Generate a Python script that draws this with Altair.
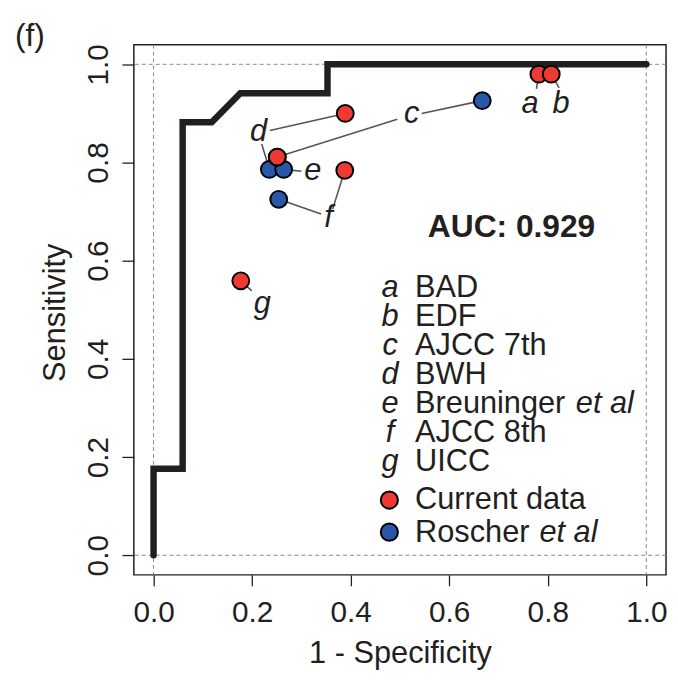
import altair as alt
import pandas as pd

FONT = "Liberation Sans"
INK = "#231F20"
RED = "#EE3A32"
BLUE = "#2A58A8"

# ROC step curve (1 - specificity, sensitivity)
roc_fpr = [0.0, 0.0, 0.059, 0.059, 0.118, 0.176, 0.353, 0.353, 1.0]
roc_tpr = [0.0, 0.176, 0.176, 0.882, 0.882, 0.941, 0.941, 1.0, 1.0]

# Current data (red)
cur_key = ["a", "b", "c", "d", "e", "f", "g"]
cur_fpr = [0.782, 0.807, 0.251, 0.389, 0.251, 0.388, 0.177]
cur_tpr = [0.980, 0.980, 0.811, 0.900, 0.811, 0.784, 0.559]

# Roscher et al (blue)
ros_key = ["c", "d", "e", "f"]
ros_fpr = [0.667, 0.235, 0.264, 0.254]
ros_tpr = [0.926, 0.786, 0.786, 0.725]

# point labels
lab_text = ["a", "b", "c", "d", "e", "f", "g"]
lab_x = [0.764, 0.827, 0.524, 0.213, 0.323, 0.355, 0.2205]
lab_y = [0.900, 0.900, 0.880, 0.843, 0.764, 0.669, 0.493]

# leader lines: label end -> point
seg_x1 = [0.777, 0.823, 0.4946, 0.544, 0.236, 0.2195, 0.300, 0.3635, 0.340, 0.1994]
seg_y1 = [0.950, 0.952, 0.888, 0.900, 0.865, 0.8376, 0.782, 0.705, 0.695, 0.5386]
seg_x2 = [0.782, 0.807, 0.251, 0.667, 0.389, 0.235, 0.264, 0.388, 0.254, 0.177]
seg_y2 = [0.980, 0.980, 0.811, 0.926, 0.900, 0.786, 0.786, 0.784, 0.725, 0.559]

# key
leg_letters = ["a", "b", "c", "d", "e", "f", "g"]
leg_names = ["BAD", "EDF", "AJCC 7th", "BWH", "Breuninger", "AJCC 8th", "UICC"]
leg_series = ["Current data", "Roscher"]
auc_text = "AUC: 0.929"

ticks = [0.0, 0.2, 0.4, 0.6, 0.8, 1.0]
dom = [-0.04, 1.04]

# layout of the key (data units)
LX_LET, LX_NAME, LY0, LSTEP = 0.48, 0.5307, 0.5265, 0.059
LFS = 31

xs = alt.Scale(domain=dom, nice=False, zero=False)
ys = alt.Scale(domain=dom, nice=False, zero=False)

XAX = alt.Axis(
    values=ticks, format=".1f", title="1 - Specificity",
    tickSize=11, tickWidth=1.3, labelPadding=11.6, labelFontSize=30,
    titleFontSize=31, titleBaseline="alphabetic", titleY=88)
YAX = alt.Axis(
    values=ticks, format=".1f", title="Sensitivity",
    tickSize=12, tickWidth=1.3, labelPadding=14.7, labelFontSize=30,
    labelAngle=270, labelAlign="center", labelBaseline="alphabetic",
    titleFontSize=31, titleAngle=270, titleBaseline="alphabetic",
    titleAlign="center", titleX=-70, titleY=270)


def X(f="x"):
    return alt.X(f"{f}:Q", scale=xs, axis=XAX)


def Y(f="y"):
    return alt.Y(f"{f}:Q", scale=ys, axis=YAX)


# reference dashed lines
vref = alt.Chart(pd.DataFrame({"x": [0.0, 1.0]})).mark_rule(
    color="#8a8a8a", strokeWidth=1, strokeDash=[4, 3]).encode(x=X())
href = alt.Chart(pd.DataFrame({"y": [0.0, 1.0]})).mark_rule(
    color="#8a8a8a", strokeWidth=1, strokeDash=[4, 3]).encode(y=Y())

roc = alt.Chart(pd.DataFrame({"x": roc_fpr, "y": roc_tpr, "i": list(range(len(roc_fpr)))})).mark_line(
    color=INK, strokeWidth=6.5, strokeJoin="miter", strokeCap="round").encode(
    x=X(), y=Y(), order="i:Q")

segs = alt.Chart(pd.DataFrame({"x": seg_x1, "y": seg_y1, "x2": seg_x2, "y2": seg_y2})).mark_rule(
    color="#555555", strokeWidth=1.6).encode(x=X(), y=Y(), x2="x2:Q", y2="y2:Q")

PSIZE = 290
blue = alt.Chart(pd.DataFrame({"x": ros_fpr, "y": ros_tpr, "k": ros_key})).mark_point(
    shape="circle", filled=True, size=PSIZE, fill=BLUE, fillOpacity=1,
    stroke="black", strokeWidth=2, opacity=1).encode(x=X(), y=Y())
red = alt.Chart(pd.DataFrame({"x": cur_fpr, "y": cur_tpr, "k": cur_key})).mark_point(
    shape="circle", filled=True, size=PSIZE, fill=RED, fillOpacity=1,
    stroke="black", strokeWidth=2, opacity=1).encode(x=X(), y=Y())

labels = alt.Chart(pd.DataFrame({"x": lab_x, "y": lab_y, "t": lab_text})).mark_text(
    font=FONT, fontSize=31, fontStyle="italic", color=INK, align="center",
    baseline="alphabetic").encode(x=X(), y=Y(), text="t:N")

auc = alt.Chart(pd.DataFrame({"x": [0.7265], "y": [0.648], "t": [auc_text]})).mark_text(
    font=FONT, fontSize=32, fontWeight="bold", color=INK, align="center",
    baseline="alphabetic").encode(x=X(), y=Y(), text="t:N")

ly = [LY0 - i * LSTEP for i in range(len(leg_letters))]
leg_let = alt.Chart(pd.DataFrame({"x": [LX_LET] * 7, "y": ly, "t": leg_letters})).mark_text(
    font=FONT, fontSize=LFS, fontStyle="italic", color=INK, align="center",
    baseline="alphabetic").encode(x=X(), y=Y(), text="t:N")
leg_nm = alt.Chart(pd.DataFrame({"x": [LX_NAME] * 7, "y": ly, "t": leg_names})).mark_text(
    font=FONT, fontSize=LFS, color=INK, align="left",
    baseline="alphabetic").encode(x=X(), y=Y(), text="t:N")

ser_y = [0.0945, 0.0276]
leg_ser = alt.Chart(pd.DataFrame({"x": [LX_NAME] * 2, "y": ser_y, "t": ["Current data", "Roscher"]})).mark_text(
    font=FONT, fontSize=LFS, color=INK, align="left",
    baseline="alphabetic").encode(x=X(), y=Y(), text="t:N")
etal = alt.Chart(pd.DataFrame({"x": [0.857, 0.783], "y": [LY0 - 4 * LSTEP, 0.0276], "t": ["et al", "et al"]})).mark_text(
    font=FONT, fontSize=LFS, fontStyle="italic", color=INK, align="left",
    baseline="alphabetic").encode(x=X(), y=Y(), text="t:N")

leg_dots = alt.Chart(pd.DataFrame({"x": [0.4785, 0.4785], "y": [0.1123, 0.0471], "s": leg_series})).mark_point(
    shape="circle", filled=True, size=300, fillOpacity=1, stroke="black",
    strokeWidth=2, opacity=1).encode(
    x=X(), y=Y(),
    fill=alt.Fill("s:N", scale=alt.Scale(domain=leg_series, range=[RED, BLUE]), legend=None))

panel = alt.Chart(pd.DataFrame({"t": ["(f)"]})).mark_text(
    font=FONT, fontSize=32, color=INK, align="left", baseline="alphabetic").encode(
    x=alt.value(-120), y=alt.value(1), text="t:N")

chart = alt.layer(
    vref, href, roc, segs, blue, red, labels, auc,
    leg_let, leg_nm, leg_ser, etal, leg_dots, panel
).properties(
    width=537, height=535,
    padding={"left": 127, "top": 34, "right": 4, "bottom": 95},
    autosize=alt.AutoSizeParams(type="none"),
    background="white",
).configure_view(
    stroke=INK, strokeWidth=1.5
).configure_axis(
    labelFont=FONT, titleFont=FONT, labelColor=INK, titleColor=INK,
    tickColor=INK, domain=False, grid=False, titleFontWeight="normal"
)

chart.save("out.html", embed_options={"renderer": "svg", "actions": False})
